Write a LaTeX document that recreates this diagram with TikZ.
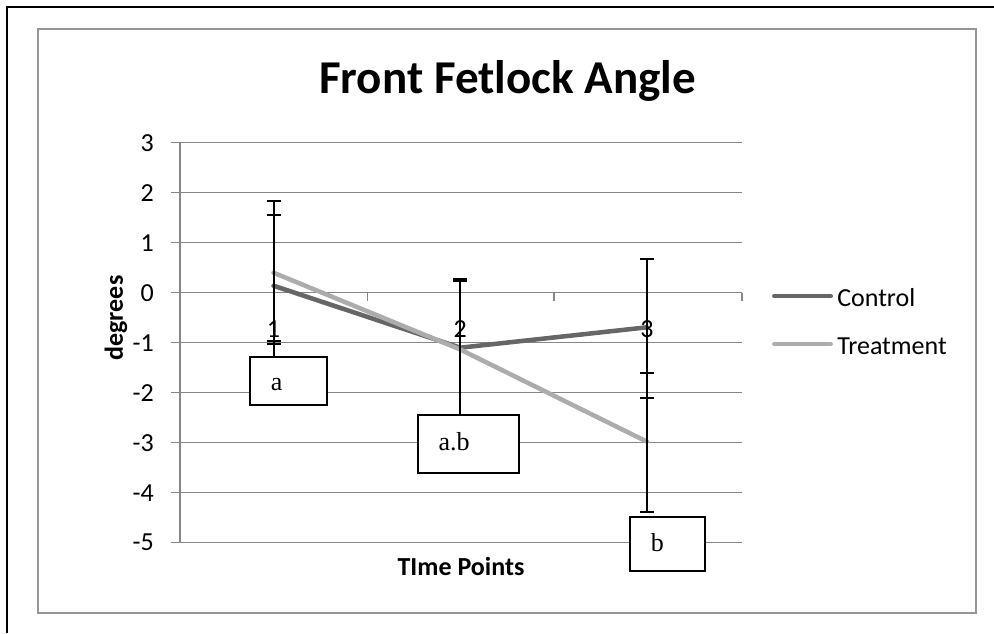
\documentclass[tikz,border=0pt]{standalone}
\usepackage{fontspec}
\setmainfont{Carlito}
\newfontfamily\tnr{Liberation Serif}
\definecolor{gridgray}{RGB}{134,134,134}
\definecolor{ctrlc}{RGB}{102,102,102}
\definecolor{treatc}{RGB}{172,172,172}
\definecolor{framec}{RGB}{150,150,150}
\begin{document}
\begin{tikzpicture}[x=0.75pt,y=-0.75pt,
  grid/.style={draw=gridgray,line width=1pt},
  axisline/.style={draw=gridgray,line width=1pt},
  ctrlline/.style={draw=ctrlc,line width=3.4pt,line cap=round,line join=round},
  treatline/.style={draw=treatc,line width=3.4pt,line cap=round,line join=round},
  errbar/.style={draw=black,line width=1.5pt},
  ticklab/.style={inner sep=0pt,font=\fontsize{19.5}{23}\selectfont},
  axtitle/.style={inner sep=0pt,font=\fontsize{19.5}{23}\selectfont\bfseries},
  titlest/.style={inner sep=0pt,font=\fontsize{35.3}{40}\selectfont\bfseries},
  boxst/.style={draw=black,fill=white,line width=1.4pt,inner sep=0pt,anchor=north west},
  boxtxt/.style={inner sep=0pt,anchor=base west,font=\tnr\fontsize{19.5}{23}\selectfont},
  legtxt/.style={inner sep=0pt,anchor=base west,font=\fontsize{19.5}{23}\selectfont}]
\useasboundingbox (0,0) rectangle (994,633);
% outer black frame
\draw[line width=1.7pt] (7,633) -- (7,7.3) -- (994,7.3);
% chart frame
\draw[draw=framec,line width=1.6pt] (38,29.3) rectangle (976.3,612.7);
% title
\node[titlest,anchor=base] (title) at (507.5,93.3) {Front Fetlock Angle};
% gridlines and y ticks
\foreach \v [count=\i] in {3,2,1,0,-1,-2,-3,-4,-5} {
  \pgfmathsetmacro{\yy}{292.7-50*\v}
  \draw[grid] (180,\yy) -- (742,\yy);
  \draw[axisline] (171,\yy) -- (180,\yy);
  \node[ticklab,anchor=east] (yl\i) at (154,\yy) {\v};
}
\draw[axisline] (180,142.7) -- (180,542.7);
% category ticks
\foreach \x in {180,367.5,554,742} \draw[axisline] (\x,292.7) -- (\x,300.7);
% axis titles
\node[axtitle,rotate=90] (ytitle) at (116,318) {degrees};
\node[axtitle,anchor=base] (xtitle) at (461,575) {TIme Points};
% series
\draw[ctrlline] (273.5,285.7) -- (460.3,347.7) -- (647,327.3);
\draw[treatline] (273.5,272.7) -- (460.3,349.5) -- (647,441.7);
% error bars
\draw[errbar] (273.5,200.7) -- (273.5,370);
\foreach \y in {200.7,215,341,344} \draw[errbar] (266.5,\y) -- (280.5,\y);
\draw[errbar] (460.3,279) -- (460.3,430);
\foreach \y in {279,281} \draw[errbar] (453.3,\y) -- (467.3,\y);
\draw[errbar] (647,259) -- (647,511.7);
\foreach \y in {259,372.7,397.7,511.7} \draw[errbar] (640,\y) -- (654,\y);
% category labels
\node[ticklab] (c1) at (273.5,329) {1};
\node[ticklab] (c2) at (460.3,329) {2};
\node[ticklab] (c3) at (647,329) {3};
% letter boxes
\node[boxst,minimum width=57.5pt,minimum height=36pt] (boxa) at (249.3,355.7) {};
\node[boxtxt] (ta) at (270.7,390.7) {a};
\node[boxst,minimum width=75.3pt,minimum height=43.7pt] (boxab) at (417.3,414) {};
\node[boxtxt] (tab) at (438.3,450) {a.b};
\node[boxst,minimum width=56pt,minimum height=40.7pt] (boxb) at (629.3,515.7) {};
\node[boxtxt] (tb) at (650.7,551.7) {b};
% legend
\coordinate (lc1) at (774.3,296);
\coordinate (lc2) at (830.7,296);
\coordinate (lt1) at (774.3,344);
\coordinate (lt2) at (830.7,344);
\draw[ctrlline] (lc1) -- (lc2);
\draw[treatline] (lt1) -- (lt2);
\node[legtxt] (lgc) at (837,306) {Control};
\node[legtxt] (lgt) at (837,354.3) {Treatment};
\end{tikzpicture}
\end{document}
